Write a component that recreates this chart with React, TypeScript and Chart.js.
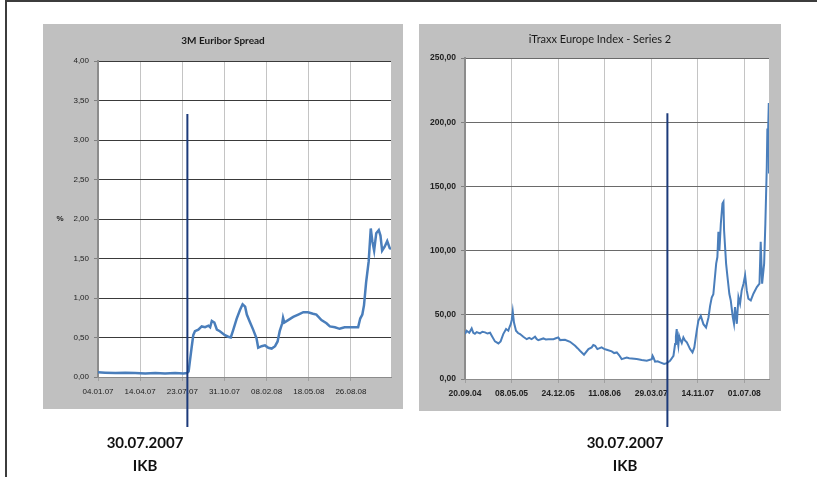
import React, { useEffect, useRef } from "react";
import { Chart, registerables } from "chart.js";

Chart.register(...registerables);

// ---------- Data: 3M Euribor Spread (%), x = days since 04.01.2007 ----------
const euriborDays = [
  0, 17, 41, 65, 88, 112, 136, 159, 183, 203, 211, 215, 218, 222, 226, 230, 238, 246, 254, 262,
  266, 270, 276, 282, 289, 301, 309, 315, 321, 329, 337, 343, 349, 353, 360, 368, 376, 380, 388, 396,
  404, 412, 420, 426, 431, 437, 439, 442, 451, 463, 475, 487, 498, 510, 518, 530, 542, 550, 562, 573,
  585, 601, 617, 622, 627, 631, 636, 642, 647, 651, 655, 660, 666, 670, 674, 680, 686, 692, 695,
];
const euriborValues = [
  0.06, 0.055, 0.05, 0.055, 0.05, 0.045, 0.05, 0.045, 0.05, 0.045, 0.05, 0.07, 0.2, 0.37, 0.53, 0.58, 0.6, 0.64, 0.63, 0.65,
  0.63, 0.71, 0.69, 0.6, 0.58, 0.53, 0.51, 0.5, 0.6, 0.74, 0.85, 0.92, 0.89, 0.79, 0.7, 0.6, 0.49, 0.37, 0.39, 0.4,
  0.37, 0.36, 0.39, 0.45, 0.58, 0.68, 0.75, 0.69, 0.72, 0.76, 0.79, 0.82, 0.82, 0.8, 0.79, 0.72, 0.68, 0.64, 0.63, 0.61,
  0.63, 0.63, 0.63, 0.74, 0.79, 0.91, 1.2, 1.46, 1.88, 1.71, 1.6, 1.82, 1.86, 1.79, 1.6, 1.65, 1.72, 1.63, 1.62,
];
const euriborTickLabels = ["04.01.07", "14.04.07", "23.07.07", "31.10.07", "08.02.08", "18.05.08", "26.08.08"];
const euriborTickStep = 100;
const euriborLastDay = 695;
const euriborYMax = 4;
const euriborYStep = 0.5;

// ---------- Data: iTraxx Europe Index - Series 2, x = days since 20.09.2004 ----------
const itraxxDays = [
  0, 8, 21, 33, 41, 49, 58, 74, 86, 99,
  111, 124, 132, 148, 165, 176, 189, 203, 214, 220,
  226, 231, 236, 242, 252, 262, 272, 288, 305, 317,
  329, 346, 354, 362, 387, 399, 412, 437, 449, 461,
  470, 494, 519, 544, 556, 568, 588, 610, 626, 634,
  643, 654, 675, 687, 700, 725, 737, 750, 762, 774,
  799, 811, 824, 848, 861, 873, 898, 923, 927, 931,
  939, 952, 964, 984, 997, 1013, 1030, 1038, 1042, 1046,
  1050, 1054, 1058, 1063, 1071, 1079, 1087, 1096, 1104, 1112,
  1124, 1133, 1145, 1153, 1165, 1178, 1191, 1203, 1211, 1219,
  1227, 1241, 1247, 1252, 1257, 1264, 1272, 1277, 1280, 1285,
  1290, 1297, 1306, 1313, 1323, 1329, 1334, 1343, 1351, 1359,
  1367, 1376, 1384, 1392, 1400, 1412, 1425, 1442, 1455, 1461,
  1468, 1478, 1484, 1491, 1494, 1497, 1501, 1502,
];
const itraxxValues = [
  35, 37.6, 36, 39.4, 36, 35.2, 36.5, 35.5, 36.8, 36.3,
  35.4, 36, 33.7, 29.3, 27.7, 29.3, 35, 38.9, 37.6, 40.5,
  42.7, 46, 52.6, 44, 37.6, 35.8, 35, 32.9, 31, 32,
  31, 32.9, 31.2, 30.3, 31.6, 30.8, 31, 31, 31.7, 32.4,
  30.3, 30.6, 29, 25.9, 24, 22, 18.9, 23.3, 24.6, 26.5,
  25.9, 23.3, 24.6, 23.5, 22.8, 21.5, 20.2, 20.7, 18.5, 15.5,
  16.8, 16.2, 16, 15.5, 15.2, 14.8, 14.2, 15.5, 18, 16.8,
  13.5, 13.8, 13, 11.7, 12.4, 14.2, 18.1, 27.2, 33, 38.9,
  30, 25.9, 33.5, 31, 28, 32.4, 30, 28.5, 26, 23.3,
  20.7, 24.6, 37.6, 45.3, 49.2, 42.7, 40.1, 47.9, 57, 63.5,
  66, 89.9, 95, 114.6, 100.3, 121, 136.7, 138, 116, 102.9,
  89.9, 79.4, 66.4, 61.2, 48.2, 43, 56, 43, 63.8, 58.6,
  69, 74.2, 80.7, 69, 62.5, 61.2, 66.4, 71.6, 74.2, 106.8,
  74.2, 89.9, 121, 165, 195, 190, 215, 160,
];
const itraxxTickLabels = ["20.09.04", "08.05.05", "24.12.05", "11.08.06", "29.03.07", "14.11.07", "01.07.08"];
const itraxxTickStep = 230;
const itraxxLastDay = 1502;
const itraxxYMax = 250;
const itraxxYStep = 50;

// ---------- IKB marker (position, in axis units) ----------
const ikbDateLabel = "30.07.2007";
const ikbName = "IKB";
const ikbEuriborDay = 212;
const ikbEuriborTop = 3.33;
const ikbItraxxDay = 1000;
const ikbItraxxTop = 207;

const panelPlugin = {
  id: "panel",
  beforeDraw(chart: any, _args: any, o: any) {
    const ctx = chart.ctx;
    const a = chart.chartArea;
    ctx.save();
    ctx.fillStyle = "#c0c0c0";
    ctx.fillRect(0, 0, chart.width, o.greyHeight);
    ctx.fillStyle = "#ffffff";
    ctx.fillRect(a.left, a.top, a.right - a.left, a.bottom - a.top);
    ctx.fillStyle = "#1a1a1a";
    ctx.font = o.titleFont;
    ctx.textAlign = "center";
    ctx.textBaseline = "middle";
    ctx.fillText(o.title, chart.width / 2, o.titleY);
    if (o.yTitle) {
      ctx.font = "bold 8px 'Liberation Sans', Arial, sans-serif";
      ctx.fillStyle = "#222";
      ctx.fillText(o.yTitle, o.yTitleX, o.yTitleY);
    }
    ctx.restore();
  },
  afterDraw(chart: any, _args: any, o: any) {
    const ctx = chart.ctx;
    const x = chart.scales.x.getPixelForValue(o.ikbDay);
    const yTop = chart.scales.y.getPixelForValue(o.ikbTop);
    ctx.save();
    ctx.strokeStyle = "#1c3a7a";
    ctx.lineWidth = 2;
    ctx.beginPath();
    ctx.moveTo(x, yTop);
    ctx.lineTo(x, o.ikbBottom);
    ctx.stroke();
    ctx.fillStyle = "#111";
    ctx.textAlign = "center";
    ctx.textBaseline = "middle";
    ctx.font = "bold 15px Lato, 'Open Sans', sans-serif";
    ctx.fillText(o.ikbText, o.textX, o.textY1);
    ctx.fillText(o.ikbSub, o.textX, o.textY2);
    ctx.restore();
  },
};

type PanelProps = {
  left: number;
  top: number;
  width: number;
  height: number;
  greyHeight: number;
  area: { l: number; r: number; t: number; b: number };
  title: string;
  titleFont: string;
  titleY: number;
  yTitle: string;
  yTitleX: number;
  yTitleY: number;
  days: number[];
  values: number[];
  tickLabels: string[];
  tickStep: number;
  lastDay: number;
  yMax: number;
  yStep: number;
  hGrid: string;
  tickFont: number;
  tickWeight: string;
  lineWidth: number;
  ikbDay: number;
  ikbTop: number;
  textX: number;
};

function Panel(p: PanelProps) {
  const ref = useRef<HTMLCanvasElement | null>(null);
  useEffect(() => {
    if (!ref.current) return;
    const xAxisH = 30;
    const chart = new Chart(ref.current, {
      type: "line",
      data: {
        datasets: [
          {
            data: p.days.map((d, i) => ({ x: d, y: p.values[i] })),
            borderColor: "#4a7ebb",
            borderWidth: p.lineWidth,
            pointRadius: 0,
            tension: 0,
            fill: false,
          },
        ],
      },
      options: {
        animation: false,
        responsive: false,
        devicePixelRatio: 1,
        events: [],
        layout: {
          padding: {
            left: 0,
            top: p.area.t,
            right: p.width - p.area.r,
            bottom: p.height - p.area.b - xAxisH,
          },
        },
        plugins: {
          legend: { display: false },
          tooltip: { enabled: false },
          title: { display: false },
          panel: {
            greyHeight: p.greyHeight,
            title: p.title,
            titleFont: p.titleFont,
            titleY: p.titleY,
            yTitle: p.yTitle,
            yTitleX: p.yTitleX,
            yTitleY: p.yTitleY,
            ikbDay: p.ikbDay,
            ikbTop: p.ikbTop,
            ikbBottom: 403,
            ikbText: ikbDateLabel,
            ikbSub: ikbName,
            textX: p.textX,
            textY1: 419,
            textY2: 442,
          },
        } as any,
        scales: {
          x: {
            type: "linear",
            min: 0,
            max: p.lastDay,
            afterBuildTicks: (s: any) => {
              s.ticks = p.tickLabels.map((_, i) => ({ value: i * p.tickStep }));
            },
            afterFit: (s: any) => {
              s.height = xAxisH;
            },
            ticks: {
              autoSkip: false,
              maxRotation: 0,
              padding: 6,
              color: "#222",
              font: { family: "'Liberation Sans', Arial, sans-serif", size: p.tickFont, weight: p.tickWeight as any },
              callback: (_v: any, i: number) => p.tickLabels[i],
            },
            grid: { color: "#c4c4c4", lineWidth: 1, tickLength: 4, tickColor: "#a0a0a0" },
            border: { color: "#8c8c8c", width: 1 },
          },
          y: {
            min: 0,
            max: p.yMax,
            afterFit: (s: any) => {
              s.width = p.area.l;
            },
            ticks: {
              stepSize: p.yStep,
              padding: 5,
              color: "#222",
              font: { family: "'Liberation Sans', Arial, sans-serif", size: p.tickFont, weight: p.tickWeight as any },
              callback: (v: any) => Number(v).toFixed(2).replace(".", ","),
            },
            grid: { color: p.hGrid, lineWidth: 1, tickLength: 4, tickColor: "#808080" },
            border: { color: "#8c8c8c", width: 2 },
          },
        },
      },
      plugins: [panelPlugin as any],
    });
    return () => chart.destroy();
  }, []);
  return (
    <canvas
      ref={ref}
      width={p.width}
      height={p.height}
      style={{ position: "absolute", left: p.left, top: p.top, width: p.width, height: p.height, display: "block" }}
    />
  );
}

export default function App() {
  return (
    <div style={{ position: "absolute", left: 0, top: 0, width: 817, height: 477, background: "#fff", overflow: "hidden" }}>
      <div
        style={{
          position: "absolute",
          left: 5,
          top: 0,
          width: 812,
          height: 477,
          borderTop: "2px solid #3c3c3c",
          borderLeft: "2px solid #3c3c3c",
          boxSizing: "border-box",
        }}
      />
      <Panel
        left={43}
        top={24}
        width={360}
        height={453}
        greyHeight={385}
        area={{ l: 55, r: 348, t: 37, b: 353 }}
        title="3M Euribor Spread"
        titleFont="bold 10px Lato, 'Open Sans', sans-serif"
        titleY={17}
        yTitle="%"
        yTitleX={17}
        yTitleY={195}
        days={euriborDays}
        values={euriborValues}
        tickLabels={euriborTickLabels}
        tickStep={euriborTickStep}
        lastDay={euriborLastDay}
        yMax={euriborYMax}
        yStep={euriborYStep}
        hGrid="#3a3a3a"
        tickFont={8}
        tickWeight="normal"
        lineWidth={2.5}
        ikbDay={ikbEuriborDay}
        ikbTop={ikbEuriborTop}
        textX={102}
      />
      <Panel
        left={419}
        top={24}
        width={362}
        height={453}
        greyHeight={387}
        area={{ l: 46, r: 350, t: 34, b: 355 }}
        title="iTraxx Europe Index - Series 2"
        titleFont="11px Lato, 'Open Sans', sans-serif"
        titleY={15}
        yTitle=""
        yTitleX={0}
        yTitleY={0}
        days={itraxxDays}
        values={itraxxValues}
        tickLabels={itraxxTickLabels}
        tickStep={itraxxTickStep}
        lastDay={itraxxLastDay}
        yMax={itraxxYMax}
        yStep={itraxxYStep}
        hGrid="#6a6a6a"
        tickFont={8.5}
        tickWeight="bold"
        lineWidth={2}
        ikbDay={ikbItraxxDay}
        ikbTop={ikbItraxxTop}
        textX={206}
      />
    </div>
  );
}
